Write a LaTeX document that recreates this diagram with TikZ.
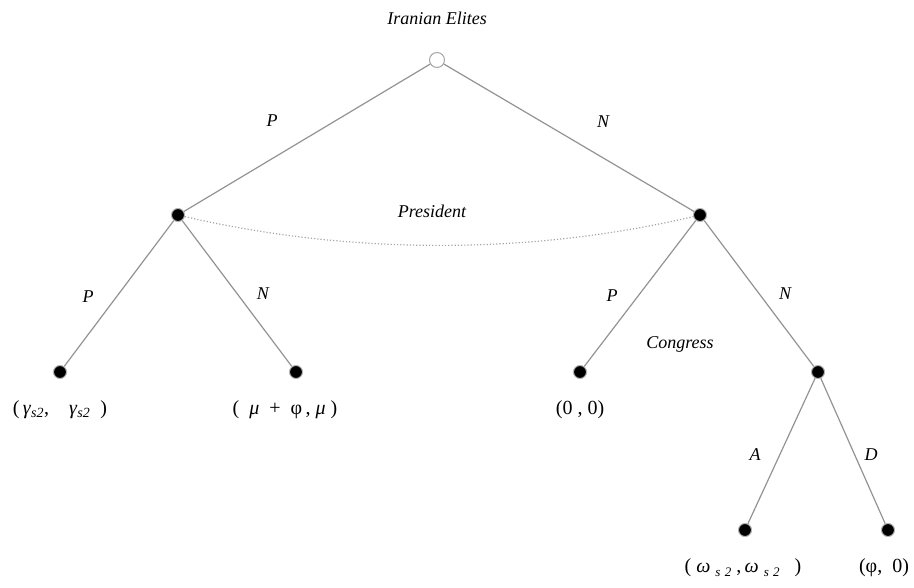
\documentclass[tikz,border=0pt]{standalone}
\usepackage{fontspec}
\setmainfont{Liberation Serif}
\usetikzlibrary{positioning}
\tikzset{
  move/.style = {draw=gray!85, line width=1.2pt},
  dec/.style = {circle, fill=black, draw=gray!60, line width=1pt, inner sep=0pt, minimum size=13pt},
  start/.style = {circle, fill=white, draw=gray!70, line width=1pt, inner sep=0pt, minimum size=15pt},
  lab/.style = {font=\fontsize{18}{21}\selectfont\itshape},
  pay/.style = {font=\fontsize{20}{24}\selectfont}
}
\newcommand{\sub}[1]{\textsubscript{\itshape #1}}
\newcommand{\lowsub}[1]{\raisebox{-0.45ex}{\fontsize{13}{15}\selectfont\itshape #1}}
\begin{document}
\begin{tikzpicture}[x=1pt, y=-1pt]
            \useasboundingbox (0,0) rectangle (914,588);
            % decision points
            \node[start] (E) at (437,60) {};
            \node[dec] (PL) at (178,215) {};
            \node[dec] (PR) at (700,215) {};
            \node[dec] (L1) at (60,372) {};
            \node[dec] (L2) at (296,372) {};
            \node[dec] (L3) at (580,372) {};
            \node[dec] (C) at (818,372) {};
            \node[dec] (L4) at (745,530) {};
            \node[dec] (L5) at (888,530) {};
            
            \draw[move] (E) -- (PL); \draw[move] (E) -- (PR);
            \draw[move] (PL) -- (L1); \draw[move] (PL) -- (L2);
            \draw[move] (PR) -- (L3); \draw[move] (PR) -- (C);
            \draw[move] (C) -- (L4); \draw[move] (C) -- (L5);
            \draw[gray!70, dotted, line width=1.2pt] (PL) .. controls (350,255) and (530,255) .. (PR);
            
            % players and moves
            \node[lab] at (437,18) {Iranian Elites};
            \node[lab] at (432,211) {President};
            \node[lab] at (680,344) {Congress};
            \node[lab] at (272,121) {P};
            \node[lab] at (603,122) {N};
            \node[lab] at (88,297) {P};
            \node[lab] at (263,294) {N};
            \node[lab] at (612,296) {P};
            \node[lab] at (785,294) {N};
            \node[lab] at (755,455) {A};
            \node[lab] at (871,455) {D};
            
            % payoffs
            \node[pay] at (60,410) {(\,\textit{γ}\sub{s2},\quad\textit{γ}\sub{s2}\ \ )};
            \node[pay] at (285,410) {(\ \ \textit{μ}\ \ +\ \ φ\,, \textit{μ}\ )};
            \node[pay] at (580,410) {(0 , 0)};
            \node[pay] at (743,568) {(\ \textit{ω}\ \lowsub{s\,\,2}\ ,\,\textit{ω}\ \lowsub{s\,\,2}\ \ \ )};
            \node[pay] at (884,568) {(φ,\ \ 0)};
        \end{tikzpicture}
\end{document}
